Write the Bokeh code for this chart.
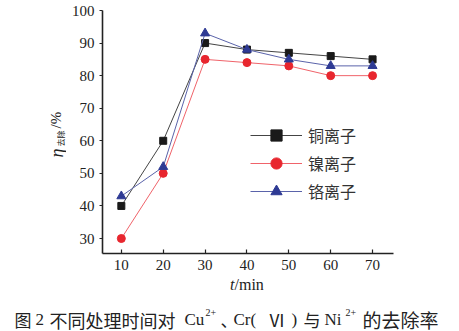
import math
from bokeh.plotting import figure
from bokeh.layouts import column, row
from bokeh.models import Label, Legend, LegendItem, Range1d, FixedTicker
from bokeh.embed import file_html
from bokeh.resources import INLINE

time_min = [10, 20, 30, 40, 50, 60, 70]
copper = [40, 60, 90, 88, 87, 86, 85]
nickel = [30, 50, 85, 84, 83, 80, 80]
chromium = [43, 52, 93, 88, 85, 83, 83]
series_names = ["铜离子", "镍离子", "铬离子"]
x_ticks = [10, 20, 30, 40, 50, 60, 70]
y_ticks = [30, 40, 50, 60, 70, 80, 90, 100]

SERIF = "Liberation Serif"
CJK = "Noto Sans CJK SC"
W, H = 459, 331
LEFT_W = 66      # width of the y-label strip
MAIN_H = 275     # height of the chart row
CAP_H = H - MAIN_H

# ---------------- main chart ----------------
p = figure(width=W - LEFT_W, height=MAIN_H, output_backend="svg", toolbar_location=None,
           x_range=Range1d(5.5, 75), y_range=Range1d(25.4, 100),
           min_border_left=36, min_border_right=66, min_border_top=10, min_border_bottom=22)
p.outline_line_color = None
p.grid.visible = False
p.background_fill_color = "white"
p.border_fill_color = "white"

for ax in (p.xaxis[0], p.yaxis[0]):
    ax.axis_line_width = 1.6
    ax.axis_line_color = "#222222"
    ax.major_tick_line_color = "#222222"
    ax.major_tick_line_width = 1.2
    ax.minor_tick_line_color = None
    ax.major_label_text_font = SERIF
    ax.major_label_text_font_size = "15px"
    ax.major_label_text_color = "#222222"

p.xaxis.ticker = FixedTicker(ticks=x_ticks)
p.yaxis.ticker = FixedTicker(ticks=y_ticks)
p.xaxis.major_tick_in = 4
p.xaxis.major_tick_out = 0
p.yaxis.major_tick_in = 0
p.yaxis.major_tick_out = 3
p.xaxis.major_label_standoff = 6
p.yaxis.major_label_standoff = 5

c_black = "#1a1a1a"
c_red = "#e8262e"
c_blue = "#2e3a94"

l1 = p.line(time_min, copper, line_color="#444444", line_width=1)
m1 = p.scatter(time_min, copper, marker="square", size=7, fill_color=c_black, line_color=c_black)
l2 = p.line(time_min, nickel, line_color="#f0636a", line_width=1)
m2 = p.scatter(time_min, nickel, marker="circle", size=8, fill_color=c_red, line_color=c_red)
l3 = p.line(time_min, chromium, line_color="#5a63aa", line_width=1)
m3 = p.scatter(time_min, chromium, marker="triangle", size=9, fill_color=c_blue, line_color=c_blue)

legend = Legend(items=[
    LegendItem(label=series_names[0], renderers=[l1, m1]),
    LegendItem(label=series_names[1], renderers=[l2, m2]),
    LegendItem(label=series_names[2], renderers=[l3, m3]),
], location=(148, 48))
legend.glyph_width = 52
legend.glyph_height = 28
legend.label_height = 28
legend.spacing = 0
legend.padding = 0
legend.margin = 0
legend.label_standoff = 6
legend.border_line_color = None
legend.background_fill_alpha = 0
legend.label_text_font = CJK
legend.label_text_font_size = "16px"
legend.label_text_color = "#333333"
p.add_layout(legend)


def text_fig(w, h):
    f = figure(width=w, height=h, output_backend="svg", toolbar_location=None,
               x_range=Range1d(0, w), y_range=Range1d(0, h),
               x_axis_location=None, y_axis_location=None,
               min_border=0, min_border_left=0, min_border_right=0,
               min_border_top=0, min_border_bottom=0)
    f.outline_line_color = None
    f.grid.visible = False
    f.background_fill_color = "white"
    f.border_fill_color = "white"
    return f


def lab(f, h, text, cx, cy, size, font=SERIF, style="normal", align="left",
        baseline="alphabetic", angle=0.0, color="#222222"):
    f.add_layout(Label(x=cx, y=h - cy, x_units="screen", y_units="screen", text=text,
                       text_font=font, text_font_size=f"{size}px", text_font_style=style,
                       text_align=align, text_baseline=baseline, angle=angle, text_color=color))


# ---------------- y-axis label strip ----------------
YS = 26  # compensation for the strip's aligned frame
yl = text_fig(LEFT_W, MAIN_H)
lab(yl, MAIN_H, "η", 56, 153 + YS, 18, style="italic", baseline="middle", angle=math.pi / 2)
lab(yl, MAIN_H, "去除", 60, 142 + YS, 8, font=CJK, baseline="middle", angle=math.pi / 2)
lab(yl, MAIN_H, "/%", 55, 124 + YS, 15, baseline="middle", angle=math.pi / 2)

# ---------------- x label + caption strip ----------------
cf = text_fig(W, CAP_H)
o = MAIN_H  # canvas y offset of this strip
lab(cf, CAP_H, "t", 234, 284 - o, 16, style="italic", align="right")
lab(cf, CAP_H, "/min", 234, 284 - o, 16)

cap_y = 319 - o
lab(cf, CAP_H, "图", 14, cap_y, 17, font=CJK)
lab(cf, CAP_H, "2", 35, cap_y, 17)
lab(cf, CAP_H, "不同处理时间对", 49, cap_y, 18, font=CJK)
lab(cf, CAP_H, "Cu", 184, cap_y, 17)
lab(cf, CAP_H, "2+", 205, cap_y - 7, 10)
lab(cf, CAP_H, "、", 220, cap_y, 17, font=CJK)
lab(cf, CAP_H, "Cr(", 233, cap_y, 17)
lab(cf, CAP_H, "Ⅵ", 268, cap_y, 17, font=CJK)
lab(cf, CAP_H, ")", 291, cap_y, 17)
lab(cf, CAP_H, "与", 303, cap_y, 17, font=CJK)
lab(cf, CAP_H, "Ni", 324, cap_y, 17)
lab(cf, CAP_H, "2+", 345, cap_y - 7, 10)
lab(cf, CAP_H, "的去除率", 362, cap_y, 19, font=CJK)

layout = column(row(yl, p, spacing=0), cf, spacing=0)
open("out.html", "w").write(file_html(layout, INLINE))
